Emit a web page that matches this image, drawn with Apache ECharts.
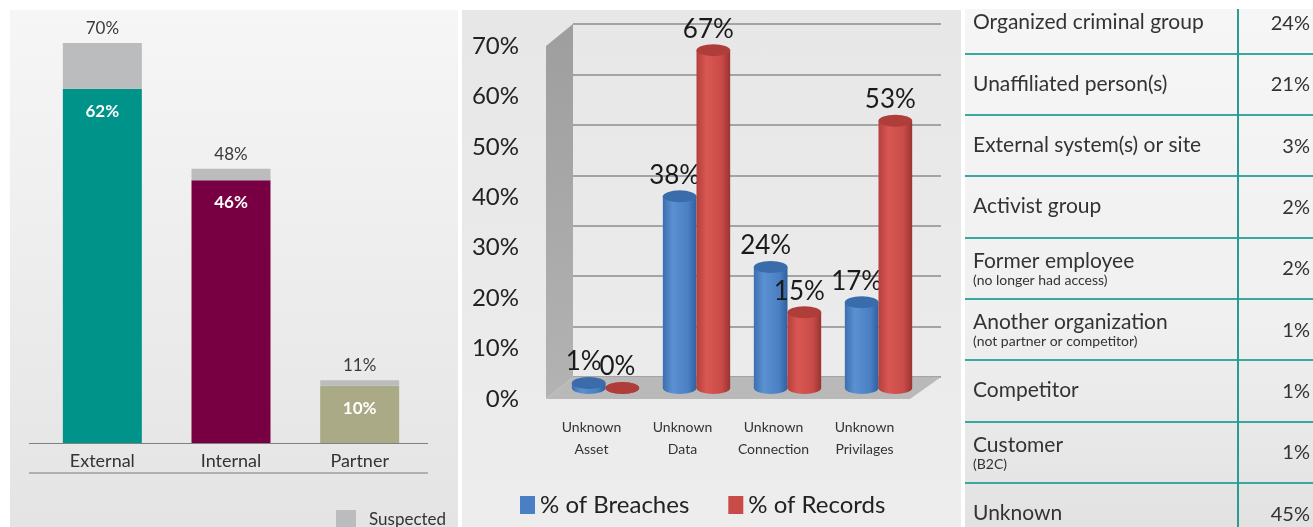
<!DOCTYPE html>
<html><head><meta charset="utf-8">
<script src="https://cdn.jsdelivr.net/npm/echarts@6/dist/echarts.min.js"></script>
<style>
html,body{margin:0;padding:0;background:#fff;width:1313px;height:527px;overflow:hidden;}
.p{position:absolute;}
#p1{left:10px;top:10px;width:448px;height:517px;background:linear-gradient(#f6f6f6,#e4e4e4);}
#p2{left:462px;top:10px;width:499px;height:517px;background:linear-gradient(#e7e7e7,#ededed);}
#p3w{left:965px;top:9px;width:348px;height:518px;overflow:hidden;background:linear-gradient(#f6f6f6 0%,#f0f0f0 60%,#e2e2e2 100%);}
#p3{position:absolute;left:0;top:-17px;width:348px;height:552px;}
</style></head><body>
<div id="p1" class="p"></div>
<div id="p2" class="p"></div>
<div id="p3w" class="p"><div id="p3"></div></div>
<script>
// ---- Panel 1: threat actors ----
const actorCategories = ['External', 'Internal', 'Partner'];
const actorConfirmed = [62, 46, 10];
const actorSuspected = [8, 2, 1];
// ---- Panel 2: unknown unknowns ----
const unknownCategories = ['Unknown\nAsset', 'Unknown\nData', 'Unknown\nConnection', 'Unknown\nPrivilages'];
const breachesPct = [1, 38, 24, 17];
const recordsPct = [0, 67, 15, 53];
// ---- Panel 3: external actor varieties ----
const actorTypes = ['Organized criminal group', 'Unaffiliated person(s)', 'External system(s) or site', 'Activist group', 'Former employee', 'Another organization', 'Competitor', 'Customer', 'Unknown'];
const actorNotes = ['', '', '', '', '(no longer had access)', '(not partner or competitor)', '', '(B2C)', ''];
const actorTypePct = [24, 21, 3, 2, 2, 1, 1, 1, 45];

const FONT = 'Lato';

// ---------- Chart 1 ----------
const barColors = ['#00938a', '#780042', '#abaa87'];
const c1 = echarts.init(document.getElementById('p1'));
c1.setOption({
  animation: false,
  grid: { left: 28, width: 386, top: 33, height: 400 },
  xAxis: { type: 'category', data: actorCategories, axisLine: { show: false }, axisTick: { show: false },
    axisLabel: { margin: 9, fontSize: 18, color: '#333', fontFamily: FONT } },
  yAxis: { type: 'value', min: 0, max: 70, show: false },
  legend: { data: ['Suspected'], left: 326, top: 500, padding: 0, itemWidth: 20, itemHeight: 20, icon: 'rect',
    textStyle: { fontSize: 17, color: '#333', fontFamily: FONT, padding: [0, 0, 0, 8] } },
  series: [
    { name: 'Confirmed', type: 'bar', stack: 'a', barWidth: 79,
      data: actorConfirmed.map((v, i) => ({ value: v, itemStyle: { color: barColors[i] } })),
      label: { show: true, position: 'insideTop', distance: 14, color: '#fff', fontWeight: 'bold', fontSize: 17, fontFamily: FONT, formatter: '{c}%' } },
    { name: 'Suspected', type: 'bar', stack: 'a', barWidth: 79, data: actorSuspected,
      itemStyle: { color: '#bbbcbe' },
      label: { show: true, position: 'top', distance: 6, color: '#3a3a3a', fontSize: 17, fontFamily: FONT,
        formatter: p => (actorConfirmed[p.dataIndex] + p.value) + '%' } }
  ],
  graphic: [
    { type: 'line', shape: { x1: 19, y1: 433.5, x2: 418, y2: 433.5 }, style: { stroke: '#808080', lineWidth: 1 } },
    { type: 'line', shape: { x1: 19, y1: 463, x2: 418, y2: 463 }, style: { stroke: '#b0b0b0', lineWidth: 2 } }
  ]
});

// ---------- Chart 2 ----------
const G = {
  back: { left: 111, top: 14, width: 368, height: 353 },
  data: { left: 98, top: 25, width: 364, height: 353 },
  lab: { left: 84, top: 36, width: 364, height: 353 }
};
function cylRender(side, topColor, stops) {
  return function (params, api) {
    const cat = api.value(0), val = api.value(1);
    const base = api.coord([cat, 0]);
    const top = api.coord([cat, val]);
    const band = api.size([1, 0])[0];
    const w = band * 0.37;
    const x0 = side === 0 ? base[0] - w : base[0];
    const cx = x0 + w / 2, rx = w / 2, ry = 6;
    const grad = new echarts.graphic.LinearGradient(0, 0, 1, 0, stops);
    const children = [];
    children.push({ type: 'circle', x: cx, y: base[1], scaleY: ry / rx, shape: { cx: 0, cy: 0, r: rx }, style: { fill: grad } });
    if (base[1] - top[1] > 0.5) {
      children.push({ type: 'rect', shape: { x: x0, y: top[1], width: w, height: base[1] - top[1] }, style: { fill: grad } });
    }
    children.push({ type: 'circle', x: cx, y: top[1], scaleY: ry / rx, shape: { cx: 0, cy: 0, r: rx }, style: { fill: topColor } });
    children.push({ type: 'text', x: cx - 5, y: top[1] - ry - 2,
      style: { text: val + '%', fill: '#1a1a1a', font: '26px ' + FONT, align: 'center', verticalAlign: 'bottom' } });
    return { type: 'group', children };
  };
}
const blueStops = [{ offset: 0, color: '#3c6fb0' }, { offset: 0.3, color: '#5b91d2' }, { offset: 0.75, color: '#4a80c3' }, { offset: 1, color: '#30609f' }];
const redStops = [{ offset: 0, color: '#b53f3c' }, { offset: 0.3, color: '#d85753' }, { offset: 0.75, color: '#c94b47' }, { offset: 1, color: '#993331' }];
const L = G.lab, B = G.back;
const c2 = echarts.init(document.getElementById('p2'));
c2.setOption({
  animation: false,
  grid: [G.back, G.data, G.lab],
  xAxis: [
    { gridIndex: 0, type: 'category', data: unknownCategories, show: false },
    { gridIndex: 1, type: 'category', data: unknownCategories, show: false },
    { gridIndex: 2, type: 'category', data: unknownCategories, axisLine: { show: false }, axisTick: { show: false },
      axisLabel: { interval: 0, margin: 17, fontSize: 14, lineHeight: 22, color: '#333', fontFamily: FONT } }
  ],
  yAxis: [
    { gridIndex: 0, type: 'value', min: 0, max: 70, interval: 10, axisLine: { show: false }, axisTick: { show: false },
      axisLabel: { show: false }, splitLine: { lineStyle: { color: '#8c8c8c', width: 1.5 } } },
    { gridIndex: 1, type: 'value', min: 0, max: 70, show: false },
    { gridIndex: 2, type: 'value', min: 0, max: 70, interval: 10, axisLine: { show: false }, axisTick: { show: false },
      splitLine: { show: false }, axisLabel: { formatter: '{value}%', fontSize: 24, color: '#222', margin: 27, fontFamily: FONT } }
  ],
  legend: { data: ['% of Breaches', '% of Records'], left: 58, top: 483, padding: 0, itemWidth: 15, itemHeight: 18, itemGap: 39, icon: 'rect',
    textStyle: { fontSize: 24, color: '#222', fontFamily: FONT } },
  graphic: [
    { type: 'polygon', z: 1, shape: { points: [[L.left, L.top], [B.left, B.top], [B.left, B.top + B.height], [L.left, L.top + L.height]] },
      style: { fill: new echarts.graphic.LinearGradient(0, 0, 0, 1, [{ offset: 0, color: '#9e9e9e' }, { offset: 1, color: '#b3b3b3' }]) } },
    { type: 'polygon', z: 1, shape: { points: [[L.left, L.top + L.height], [L.left + L.width, L.top + L.height], [B.left + B.width, B.top + B.height], [B.left, B.top + B.height]] },
      style: { fill: '#b9b9b9' } }
  ],
  series: [
    { name: '% of Breaches', type: 'custom', xAxisIndex: 1, yAxisIndex: 1, z: 5, itemStyle: { color: '#4a80c3' },
      data: breachesPct.map((v, i) => [i, v]), encode: { x: 0, y: 1 }, renderItem: cylRender(0, '#3a6cac', blueStops) },
    { name: '% of Records', type: 'custom', xAxisIndex: 1, yAxisIndex: 1, z: 5, itemStyle: { color: '#c94b47' },
      data: recordsPct.map((v, i) => [i, v]), encode: { x: 0, y: 1 }, renderItem: cylRender(1, '#af3d3a', redStops) }
  ]
});

// ---------- Chart 3 ----------
const c3 = echarts.init(document.getElementById('p3'));
c3.setOption({
  animation: false,
  grid: [{ left: 0, right: 0, top: 0, bottom: 0 }, { left: 273, right: 0, top: 0, bottom: 0 }],
  xAxis: [{ gridIndex: 0, type: 'value', show: false, min: 0, max: 100 }, { gridIndex: 1, type: 'value', show: false, min: 0, max: 100 }],
  yAxis: [
    { gridIndex: 0, type: 'category', inverse: true, data: actorTypes, axisLine: { show: false }, axisTick: { show: false },
      splitLine: { show: true, interval: 0, lineStyle: { color: '#3aa89f', width: 2 } },
      axisLabel: { inside: true, margin: 8, align: 'left', interval: 0, fontSize: 21, lineHeight: 24, color: '#333', fontFamily: FONT,
        formatter: (v, i) => actorNotes[i] ? v + '\n{sub|' + actorNotes[i] + '}' : v,
        rich: { sub: { fontSize: 14, lineHeight: 14, color: '#333', fontFamily: FONT } } } },
    { gridIndex: 1, type: 'category', inverse: true, data: actorTypes, axisLine: { show: true, lineStyle: { color: '#2c9a91', width: 2 } },
      axisTick: { show: false }, axisLabel: { show: false }, splitLine: { show: false } }
  ],
  series: [{
    type: 'custom', xAxisIndex: 1, yAxisIndex: 1, data: actorTypePct.map((v, i) => [v, i]), encode: { x: 0, y: 1 },
    renderItem: (params, api) => {
      const p = api.coord([0, api.value(1)]);
      return { type: 'text', x: params.coordSys.x + params.coordSys.width - 3, y: p[1] + 1,
        style: { text: api.value(0) + '%', font: '20px ' + FONT, fill: '#333', align: 'right', verticalAlign: 'middle' } };
    }
  }]
});
</script>
</body></html>
